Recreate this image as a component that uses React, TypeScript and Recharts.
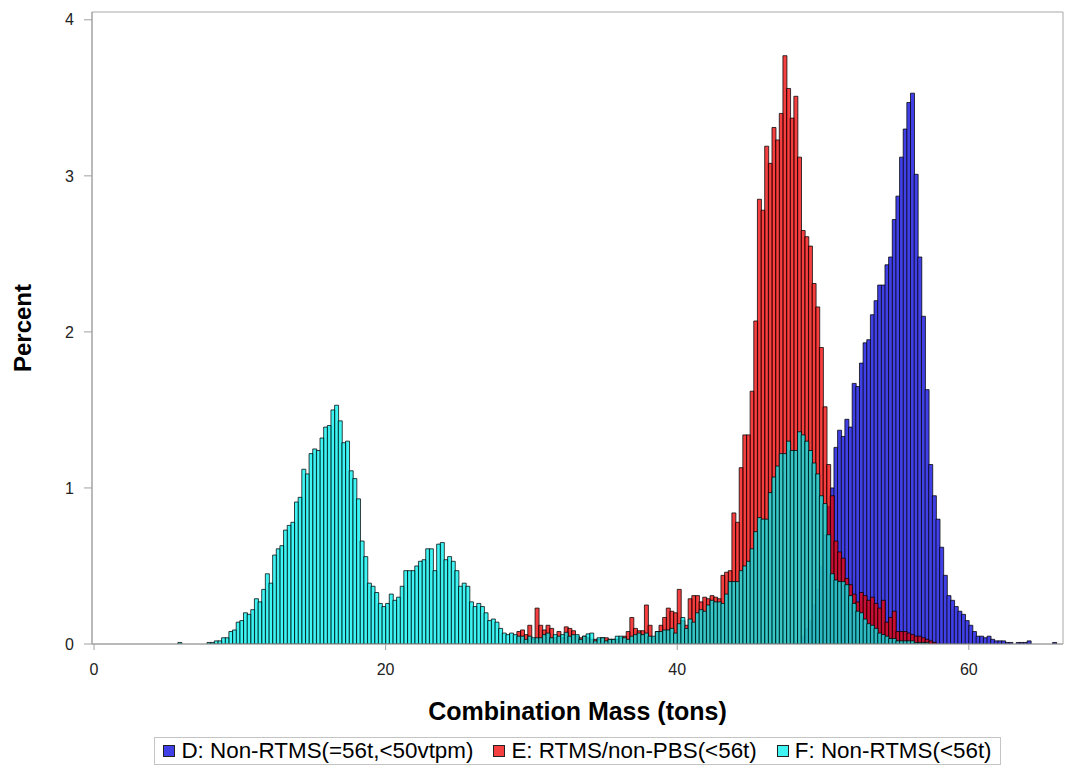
import { ComposedChart, Bar, XAxis, YAxis, Legend, ReferenceArea } from 'recharts';

// histogram bins, 0.25 t wide; values are percent of each group
const BIN_WIDTH = 0.25;
const FIRST_BIN = 5.75;
const LAST_BIN = 65.75;

const dStart = 48.5;
const dPct = [
  0.05, 0.1, 0.15, 0.25, 0.35, 0.5, 0.7, 0.88, 1.0, 1.26, 1.37, 1.33, 1.44, 1.39, 1.67, 1.65,
  1.8, 1.93, 1.95, 2.11, 2.2, 2.3, 2.3, 2.43, 2.48, 2.72, 2.87, 3.12, 3.3, 3.47, 3.53, 3.01,
  2.48, 2.1, 1.63, 1.15, 0.95, 0.8, 0.62, 0.44, 0.31, 0.28, 0.24, 0.21, 0.19, 0.15, 0.12, 0.08,
  0.05, 0.05, 0.04, 0.05, 0.03, 0.02, 0.02, 0.02, 0.01, 0.01, null, 0.01, 0.01, 0.01, 0.02,
  null, null, null, null, null, null, 0.01,
];

const eStart = 29.0;
const ePct = [
  0.08, 0.09, 0.06, 0.12, 0.03, 0.23, 0.12, 0.09, 0.12, 0.1, 0.04, 0.08, 0.04, 0.11, 0.1, 0.085,
  0.05, 0.04, 0.05, 0.04, 0.03, 0.03, 0.03, 0.04, 0.04, 0.03, 0.03, 0.03, 0.04, 0.05, 0.08, 0.17,
  0.1, 0.085, 0.085, 0.25, 0.12, 0.04, 0.08, 0.12, 0.17, 0.23, 0.21, 0.2, 0.35, 0.15, 0.12, 0.29,
  0.31, 0.31, 0.27, 0.3, 0.29, 0.31, 0.3, 0.29, 0.44, 0.46, 0.47, 0.84, 0.78, 1.13, 1.34, 1.34,
  1.62, 2.07, 2.85, 2.78, 3.19, 3.08, 3.31, 3.23, 3.4, 3.77, 3.56, 3.37, 3.51, 3.12, 2.65, 2.61,
  2.55, 2.31, 2.16, 1.9, 1.52, 1.15, 0.95, 0.66, 0.59, 0.55, 0.42, 0.38, 0.32, 0.27, 0.33, 0.31,
  0.28, 0.3, 0.26, 0.23, 0.28, 0.14, 0.17, 0.21, 0.08, 0.08, 0.08, 0.07, 0.06, 0.05, 0.05, 0.04,
  0.03, 0.02, 0.01,
];

const fStart = 5.75;
const fPct = [
  0.01, null, null, null, null, null, null, null, 0.01, 0.01, 0.02, 0.02, 0.04, 0.04, 0.08, 0.09,
  0.14, 0.15, 0.2, 0.19, 0.22, 0.29, 0.27, 0.35, 0.45, 0.39, 0.57, 0.61, 0.63, 0.73, 0.76, 0.78,
  0.91, 0.94, 1.12, 1.09, 1.22, 1.25, 1.24, 1.32, 1.39, 1.4, 1.5, 1.53, 1.43, 1.29, 1.3, 1.11,
  1.06, 0.93, 0.66, 0.56, 0.39, 0.37, 0.33, 0.26, 0.24, 0.26, 0.32, 0.28, 0.3, 0.37, 0.47, 0.47,
  0.47, 0.5, 0.53, 0.54, 0.61, 0.61, 0.47, 0.64, 0.65, 0.54, 0.56, 0.53, 0.47, 0.37, 0.39, 0.37,
  0.27, 0.24, 0.26, 0.24, 0.2, 0.15, 0.16, 0.14, 0.1, 0.07, 0.06, 0.07, 0.06, 0.05, 0.05, 0.03,
  0.05, 0.04, 0.04, 0.04, 0.06, 0.07, 0.04, 0.06, 0.05, 0.06, 0.075, 0.05, 0.06, 0.06, 0.03, 0.05,
  0.065, 0.07, 0.02, 0.04, 0.04, 0.02, 0.03, 0.03, 0.05, 0.05, 0.04, 0.03, 0.05, 0.06, 0.07, 0.06,
  0.07, 0.05, 0.05, 0.08, 0.08, 0.09, 0.09, 0.1, 0.07, 0.13, 0.17, 0.1, 0.16, 0.14, 0.2, 0.22,
  0.21, 0.25, 0.28, 0.27, 0.27, 0.26, 0.32, 0.4, 0.4, 0.4, 0.47, 0.5, 0.53, 0.61, 0.72, 0.81,
  0.8, 0.8, 0.97, 1.07, 1.14, 1.22, 1.22, 1.3, 1.24, 1.24, 1.36, 1.34, 1.3, 1.24, 1.16, 1.09,
  0.95, 0.9, 0.7, 0.45, 0.41, 0.4, 0.4, 0.38, 0.31, 0.26, 0.21, 0.2, 0.16, 0.13, 0.12, 0.1,
  0.07, 0.06, 0.05, 0.035, 0.035, 0.02, 0.02, 0.02, 0.02, 0.02, 0.01, 0.01, 0.01, 0.01,
];

const xTicks = [0, 20, 40, 60];
const yTicks = [0, 1, 2, 3, 4];

const series = [
  { key: 'd', name: 'D: Non-RTMS(=56t,<50vtpm)', fill: '#4040e6', opacity: 1, swatch: '#4040e6' },
  { key: 'e', name: 'E: RTMS/non-PBS(<56t)', fill: '#f00000', opacity: 0.75, swatch: '#f44040' },
  { key: 'f', name: 'F: Non-RTMS(<56t)', fill: '#00f0f0', opacity: 0.75, swatch: '#40f4f4' },
];

const pick = (arr: (number | null)[], start: number, lo: number) => {
  const v = arr[Math.round((lo - start) / BIN_WIDTH)];
  return v == null ? null : v;
};

const binCount = Math.round((LAST_BIN - FIRST_BIN) / BIN_WIDTH) + 1;
const rows = Array.from({ length: binCount }, (_, i) => {
  const lo = FIRST_BIN + i * BIN_WIDTH;
  return {
    mass: lo + BIN_WIDTH / 2,
    d: pick(dPct, dStart, lo),
    e: pick(ePct, eStart, lo),
    f: pick(fPct, fStart, lo),
  };
});

const FONT = '"Liberation Sans", Arial, sans-serif';
const X_DOMAIN: [number, number] = [-0.14, 66.46];
const Y_DOMAIN: [number, number] = [0, 4.05];

const LegendBox = () => (
  <div style={{ height: 28, display: 'flex', justifyContent: 'center', paddingLeft: 92, boxSizing: 'border-box' }}>
    <div
      style={{
        display: 'flex',
        alignItems: 'center',
        height: 26,
        border: '1px solid #c4c4c4',
        padding: '0 8px',
        fontFamily: FONT,
        fontSize: 22.4,
        color: '#000',
        whiteSpace: 'nowrap',
      }}
    >
      {series.map((s, i) => (
        <span key={s.key} style={{ display: 'flex', alignItems: 'center', marginLeft: i === 0 ? 0 : 20 }}>
          <span
            style={{
              width: 10,
              height: 10,
              background: s.swatch,
              border: '1px solid #222',
              marginRight: 6,
              display: 'inline-block',
            }}
          />
          {s.name}
        </span>
      ))}
    </div>
  </div>
);

export default function App() {
  return (
    <div style={{ position: 'absolute', left: 0, top: 0, width: 1065, height: 765, background: '#fff' }}>
      <ComposedChart
        width={1065}
        height={765}
        data={rows}
        margin={{ top: 12, right: 2, bottom: 0, left: 0 }}
        barCategoryGap={0}
        barGap={0}
      >
        <XAxis
          xAxisId="d"
          dataKey="mass"
          type="number"
          domain={X_DOMAIN}
          ticks={xTicks}
          allowDataOverflow
          height={93}
          tickSize={6}
          tickMargin={14}
          stroke="#a0a0a0"
          tick={{ fill: '#222', fontSize: 16, fontFamily: FONT }}
          label={{
            value: 'Combination Mass (tons)',
            position: 'insideBottom',
            offset: 17,
            style: { fontFamily: FONT, fontSize: 25, fontWeight: 'bold', fill: '#000' },
          }}
        />
        <XAxis xAxisId="e" dataKey="mass" type="number" domain={X_DOMAIN} allowDataOverflow hide />
        <XAxis xAxisId="f" dataKey="mass" type="number" domain={X_DOMAIN} allowDataOverflow hide />
        <YAxis
          type="number"
          domain={Y_DOMAIN}
          ticks={yTicks}
          allowDataOverflow
          width={92}
          tickSize={8}
          tickMargin={10}
          stroke="#a0a0a0"
          tick={{ fill: '#222', fontSize: 16, fontFamily: FONT }}
          label={{
            content: (props: any) => {
              const vb = props.viewBox || { x: 0, y: 12, width: 92, height: 632 };
              const cx = vb.x + 22;
              const cy = vb.y + vb.height / 2;
              return (
                <text
                  x={cx}
                  y={cy}
                  transform={`rotate(-90 ${cx} ${cy})`}
                  textAnchor="middle"
                  dominantBaseline="central"
                  style={{ fontFamily: FONT, fontSize: 24, fontWeight: 'bold', fill: '#000' }}
                >
                  Percent
                </text>
              );
            },
          }}
        />
        <ReferenceArea
          xAxisId="d"
          x1={X_DOMAIN[0]}
          x2={X_DOMAIN[1]}
          y1={Y_DOMAIN[0]}
          y2={Y_DOMAIN[1]}
          fill="none"
          stroke="#a8a8a8"
          strokeWidth={1}
        />
        {series.map((s) => (
          <Bar
            key={s.key}
            xAxisId={s.key}
            dataKey={s.key}
            name={s.name}
            fill={s.fill}
            fillOpacity={s.opacity}
            stroke="#000"
            strokeOpacity={0.75}
            strokeWidth={1}
            isAnimationActive={false}
          />
        ))}
        <Legend verticalAlign="bottom" content={() => <LegendBox />} />
      </ComposedChart>
    </div>
  );
}
